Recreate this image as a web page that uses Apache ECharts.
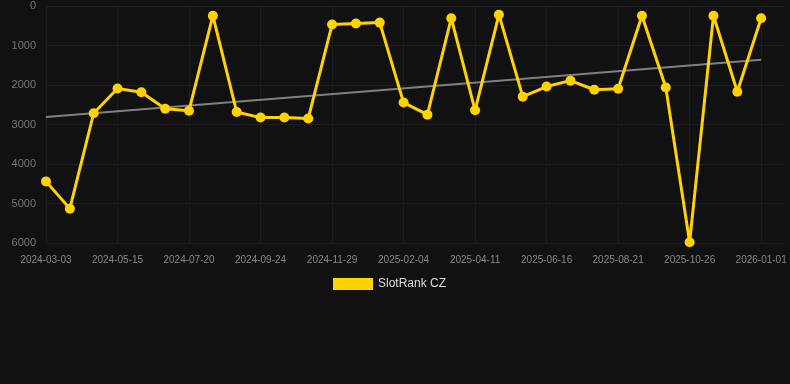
<!DOCTYPE html>
<html>
<head>
<meta charset="utf-8">
<script src="https://cdn.jsdelivr.net/npm/echarts@6/dist/echarts.min.js"></script>
<style>
  html, body { margin: 0; padding: 0; background: #111111; }
  #rank { width: 790px; height: 384px; }
</style>
</head>
<body>
<div id="rank"></div>
<script>
// last date is an empty slot that pads the right side of the plot
const dates = [
    '2024-03-03', '2024-03-27', '2024-04-21', '2024-05-15', '2024-06-06', '2024-06-28',
    '2024-07-20', '2024-08-11', '2024-09-02', '2024-09-24', '2024-10-16', '2024-11-07',
    '2024-11-29', '2024-12-21', '2025-01-13', '2025-02-04', '2025-02-26', '2025-03-20',
    '2025-04-11', '2025-05-03', '2025-05-25', '2025-06-16', '2025-07-08', '2025-07-30',
    '2025-08-21', '2025-09-12', '2025-10-04', '2025-10-26', '2025-11-17', '2025-12-09',
    '2026-01-01', '2026-01-23'
];
const rankCZ = [
    4440, 5130, 2715, 2090, 2185, 2600, 2650, 245, 2685, 2825, 2825, 2850,
    470, 445, 420, 2445, 2750, 310, 2640, 220, 2295, 2040, 1890, 2120,
    2095, 245, 2065, 5980, 245, 2170, 310, null
];
const trendEnds = [2810, 1360];
const yTicks = [0, 1000, 2000, 3000, 4000, 5000, 6000];

const lastIdx = rankCZ.length - 2;
const trend = dates.map((d, i) => i === 0 ? trendEnds[0] : (i === lastIdx ? trendEnds[1] : null));

const chart = echarts.init(document.getElementById('rank'));

const option = {
    backgroundColor: '#111111',
    animation: false,
    grid: {
        left: 46,
        right: 5,
        top: 6,
        bottom: 141
    },
    legend: {
        data: ['SlotRank CZ'],
        left: 328,
        top: 273,
        itemWidth: 40,
        itemHeight: 12,
        textStyle: { color: '#dddddd', fontSize: 12, fontFamily: 'Liberation Sans, Arial, sans-serif' },
        icon: 'rect'
    },
    xAxis: {
        type: 'category',
        boundaryGap: false,
        data: dates,
        axisLine: { show: false },
        axisTick: { show: false },
        axisLabel: {
            interval: 2,
            color: '#888888',
            fontSize: 10,
            margin: 12,
            fontFamily: 'Liberation Sans, Arial, sans-serif'
        },
        splitLine: {
            show: true,
            interval: 2,
            lineStyle: { color: '#1c1c1c', width: 1 }
        }
    },
    yAxis: {
        type: 'value',
        inverse: true,
        min: yTicks[0],
        max: yTicks[yTicks.length - 1],
        interval: 1000,
        axisLine: { show: false },
        axisTick: { show: false },
        axisLabel: {
            color: '#777777',
            fontSize: 11,
            margin: 10,
            formatter: v => String(v),
            fontFamily: 'Liberation Sans, Arial, sans-serif'
        },
        splitLine: { lineStyle: { color: '#1f1f1f', width: 1 } }
    },
    series: [
        {
            name: 'SlotRank CZ',
            type: 'line',
            data: rankCZ,
            color: '#ffd200',
            symbol: 'circle',
            symbolSize: 10,
            lineStyle: { width: 3, color: '#ffd200' },
            itemStyle: { color: '#ffd200' },
            z: 3
        },
        {
            name: 'trend',
            type: 'line',
            data: trend,
            connectNulls: true,
            symbol: 'none',
            lineStyle: { width: 2, color: '#808080' },
            z: 2
        }
    ]
};

chart.setOption(option);
</script>
</body>
</html>
